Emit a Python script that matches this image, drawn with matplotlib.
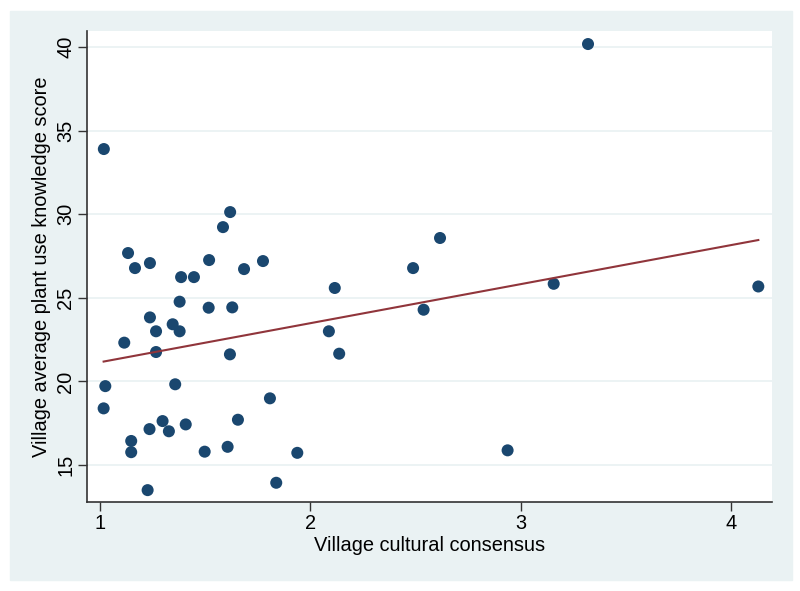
import numpy as np
import matplotlib.pyplot as plt

plt.rcParams['font.family'] = ['Liberation Sans', 'DejaVu Sans']

# village-level values
consensus = [3.320, 1.020, 1.135, 1.168, 1.239, 1.387, 1.448, 1.520, 1.586, 1.620,
             1.686, 1.776, 2.117, 2.617, 2.489, 3.157, 4.129, 2.539, 2.938, 1.380,
             1.518, 1.630, 1.239, 1.347, 1.268, 1.380, 1.117, 1.268, 1.619, 2.089,
             2.138, 1.027, 1.359, 1.019, 1.809, 1.299, 1.409, 1.657, 1.237, 1.329,
             1.150, 1.150, 1.499, 1.608, 1.939, 1.839, 1.228]
knowledge = [40.18, 33.90, 27.68, 26.78, 27.08, 26.24, 26.24, 27.26, 29.23, 30.13,
             26.72, 27.20, 25.59, 28.58, 26.78, 25.84, 25.68, 24.29, 15.88, 24.77,
             24.41, 24.43, 23.83, 23.42, 23.00, 23.00, 22.32, 21.76, 21.62, 23.00,
             21.66, 19.72, 19.83, 18.39, 18.99, 17.63, 17.43, 17.71, 17.15, 17.02,
             16.44, 15.77, 15.80, 16.09, 15.73, 13.94, 13.50]
x_ticks = [1, 2, 3, 4]
y_ticks = [15, 20, 25, 30, 35, 40]

navy = '#1A476F'
maroon = '#90353B'
panel = '#EAF2F3'
fs = 14.4

fig = plt.figure(figsize=(8, 5.91), dpi=100)
fig.patch.set_facecolor('white')
fig.add_artist(plt.Rectangle((10 / 800, 11 / 591), 782 / 800, 569 / 591,
                             transform=fig.transFigure, color=panel, zorder=0))

ax = fig.add_axes([87 / 800, 89 / 591, 685 / 800, 471 / 591])
ax.set_facecolor('white')

x = np.array(consensus)
y = np.array(knowledge)
slope, intercept = np.polyfit(x, y, 1)
xf = np.array([x.min(), x.max()])

ax.scatter(x, y, s=75, color=navy, edgecolors='none', zorder=3)
ax.plot(xf, intercept + slope * xf, color=maroon, lw=1.5, zorder=4)

ax.set_xlim(0.94, 4.194)
ax.set_ylim(12.79, 40.96)
ax.set_xticks(x_ticks)
ax.set_yticks(y_ticks)
ax.set_yticklabels([str(t) for t in y_ticks], rotation=90, va='center')
ax.grid(axis='y', color=panel, lw=1.3)
ax.set_axisbelow(True)

for side in ['top', 'right']:
    ax.spines[side].set_visible(False)
for side in ['left', 'bottom']:
    ax.spines[side].set_color('#333333')
    ax.spines[side].set_linewidth(1.2)
ax.tick_params(direction='out', length=6.5, width=1, color='#333333',
               labelsize=fs, pad=2)

ax.set_xlabel('Village cultural consensus', fontsize=fs, labelpad=2)
ax.set_ylabel('Village average plant use knowledge score', fontsize=fs, labelpad=4)

fig.savefig('out.png', dpi=100)
